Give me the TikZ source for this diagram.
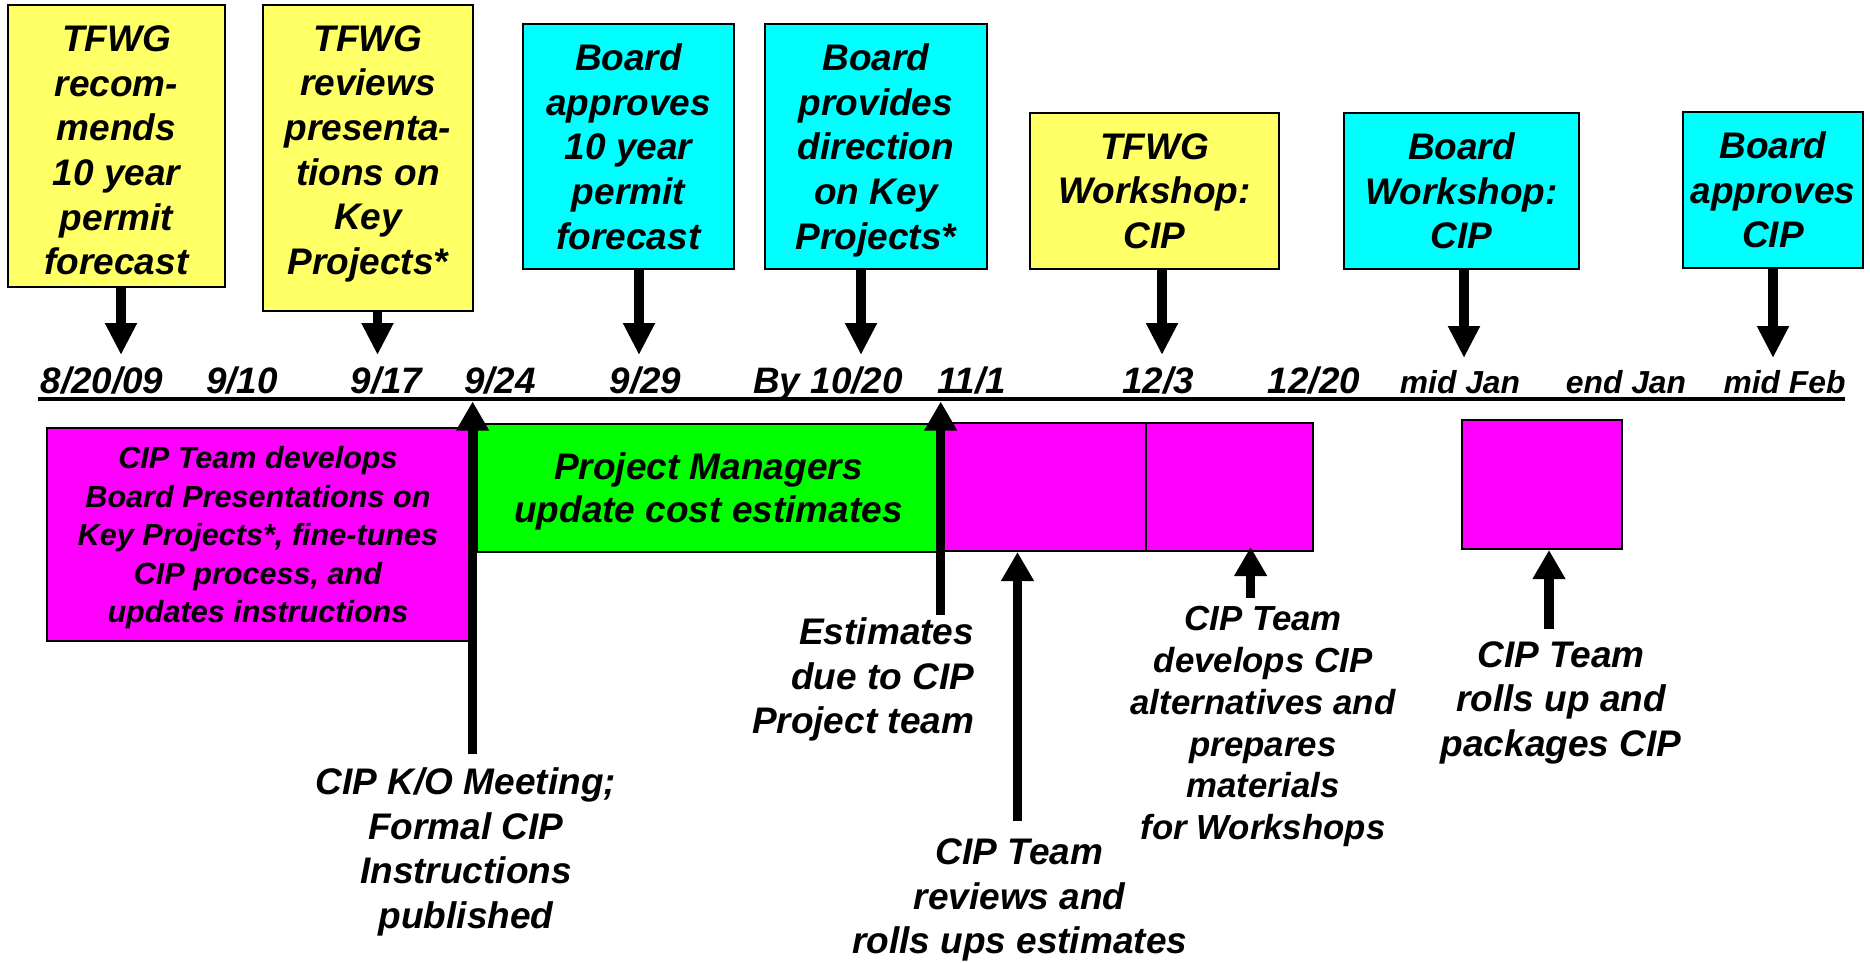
\documentclass[tikz,border=0pt]{standalone}
\usepackage{fontspec}
\setmainfont{Liberation Sans}
\usetikzlibrary{arrows.meta}
\definecolor{evyellow}{RGB}{255,255,102}
\definecolor{evcyan}{RGB}{0,255,255}
\definecolor{evmagenta}{RGB}{255,0,255}
\definecolor{evgreen}{RGB}{0,255,0}

\begin{document}
\begin{tikzpicture}[x=0.5pt,y=-0.5pt,
  txt/.style={font=\bfseries\itshape\fontsize{18.5pt}{22.3pt}\selectfont},
  lbl/.style={txt, inner sep=0pt, align=center},
  box/.style={draw=black, line width=1pt, inner sep=0pt, align=center,
              font=\bfseries\itshape\fontsize{18.5pt}{22.35pt}\selectfont},
  ybox/.style={box, fill=evyellow},
  cbox/.style={box, fill=evcyan},
  mbox/.style={box, fill=evmagenta},
  gbox/.style={box, fill=evgreen},
  datelbl/.style={font=\bfseries\itshape\fontsize{18.4pt}{20pt}\selectfont, inner sep=0pt, anchor=base},
  monthlbl/.style={datelbl, font=\bfseries\itshape\fontsize{15.9pt}{18pt}\selectfont},
  downarrow/.style={line width=4.75pt, -{Triangle[length=16pt,width=15pt]}},
  uparrow/.style={line width=4.75pt, -{Triangle[length=14.5pt,width=15.5pt]}},
]
\fill[white] (0,0) rectangle (1870,963);
\useasboundingbox (0,0) rectangle (1870,963);

% ---- milestone boxes above the timeline
\node[ybox, minimum width=108.5pt, minimum height=141pt] (b1) at (116.5,146)
  {\rule{0pt}{17.4pt}TFWG\\recom-\\mends\\10 year\\permit\\forecast};
\node[ybox, minimum width=105pt, minimum height=153pt] (b2) at (368,158)
  {TFWG\\reviews\\presenta-\\tions on\\Key\\\smash{Projects*}\rule[-8pt]{0pt}{8pt}};
\node[cbox, minimum width=105.5pt, minimum height=122.5pt] (b3) at (628.5,146.5)
  {Board\\approves\\10 year\\permit\\forecast};
\node[cbox, minimum width=111pt, minimum height=122.5pt] (b4) at (876,146.5)
  {Board\\provides\\direction\\on Key\\\smash{Projects*}};
\node[ybox, minimum width=124.5pt, minimum height=78pt] (b5) at (1154.5,191)
  {TFWG\\Workshop:\\CIP};
\node[cbox, minimum width=117.5pt, minimum height=78pt] (b6) at (1461.5,191)
  {Board\\Workshop:\\CIP};
\node[cbox, minimum width=90pt, minimum height=78pt] (b7) at (1773,190)
  {Board\\approves\\CIP};

% ---- arrow tips just above the dates
\coordinate (e1) at (121,355);
\coordinate (e2) at (377.5,355);
\coordinate (e3) at (639,355);
\coordinate (e4) at (861,355);
\coordinate (e5) at (1162,355);
\coordinate (e6) at (1464,358);
\coordinate (e7) at (1773,358);
\draw[downarrow] (e1 |- b1.south) -- (e1);
\draw[downarrow] (e2 |- b2.south) -- (e2);
\draw[downarrow] (e3 |- b3.south) -- (e3);
\draw[downarrow] (e4 |- b4.south) -- (e4);
\draw[downarrow] (e5 |- b5.south) -- (e5);
\draw[downarrow] (e6 |- b6.south) -- (e6);
\draw[downarrow] (e7 |- b7.south) -- (e7);

% ---- dates and timeline
\node[datelbl] (d1) at (102,393) {8/20/09};
\node[datelbl] (d2) at (242,393) {9/10};
\node[datelbl] (d3) at (386.5,393) {9/17};
\node[datelbl] (d4) at (500,393) {9/24};
\node[datelbl] (d5) at (645.5,393) {9/29};
\node[datelbl] (d6) at (828,393) {By 10/20};
\node[datelbl] (d7) at (971.5,393) {11/1};
\node[datelbl] (d8) at (1158,393) {12/3};
\node[datelbl] (d9) at (1314,393) {12/20};
\node[monthlbl] (d10) at (1460,393) {mid Jan};
\node[monthlbl] (d11) at (1626,393) {end Jan};
\node[monthlbl] (d12) at (1784.5,393) {mid Feb};

\coordinate (tlW) at (38,399);
\coordinate (tlE) at (1845,399);
\draw[line width=2.3pt] (tlW) -- (tlE);

% ---- activity bars below the timeline
\node[mbox, font=\bfseries\itshape\fontsize{15.3pt}{19.25pt}\selectfont,
      minimum width=211pt, minimum height=106.5pt] (p1) at (258,534.5)
  {CIP Team develops\\Board Presentations on\\Key Projects*, fine-tunes\\CIP process, and\\\smash{updates instructions}};
\node[gbox, font=\bfseries\itshape\fontsize{18.5pt}{21.35pt}\selectfont,
      minimum width=231.5pt, minimum height=64pt] (p2) at (708.5,487.5)
  {Project Managers\\\smash{update cost estimates}};
\node[mbox, minimum width=101.5pt, minimum height=64pt] (p3) at (1044.5,487) {};
\node[mbox, minimum width=83.25pt, minimum height=64pt] (p4) at (1229.25,487) {};
\node[mbox, minimum width=80.4pt, minimum height=64.5pt] (p5) at (1541.9,484.5) {};

% ---- upward arrows
\coordinate (k1) at (472.6,401.5);
\coordinate (k1s) at (472.6,753.6);
\coordinate (k2) at (940.7,401.5);
\coordinate (k2s) at (940.7,615);
\coordinate (k3s) at (1017.5,820.5);
\coordinate (k4s) at (1250.6,598);
\coordinate (k5s) at (1549,629);
\draw[uparrow] (k1s) -- (k1);
\draw[uparrow] (k2s) -- (k2);
\draw[uparrow] (k3s) -- (k3s |- p3.south);
\draw[uparrow] (k4s) -- ([yshift=2.5pt]k4s |- p4.south);
\draw[uparrow] (k5s) -- (k5s |- p5.south);

% ---- captions under the arrows
\node[lbl, anchor=north] (l1) at (466,767.5)
  {CIP K/O Meeting;\\Formal CIP\\Instructions\\published};
\node[lbl, anchor=north east, align=right] (l2) at (974.5,617.5)
  {Estimates\\due to CIP\\Project team};
\node[lbl, anchor=north] (l3) at (1019.6,838.5)
  {CIP Team\\reviews and\\rolls ups estimates};
\node[lbl, font=\bfseries\itshape\fontsize{17.4pt}{20.9pt}\selectfont, anchor=north] (l4) at (1263,606)
  {CIP Team\\develops CIP\\alternatives and\\prepares\\materials\\for Workshops};
\node[lbl, anchor=north] (l5) at (1561,641)
  {CIP Team\\rolls up and\\packages CIP};
\end{tikzpicture}
\end{document}
